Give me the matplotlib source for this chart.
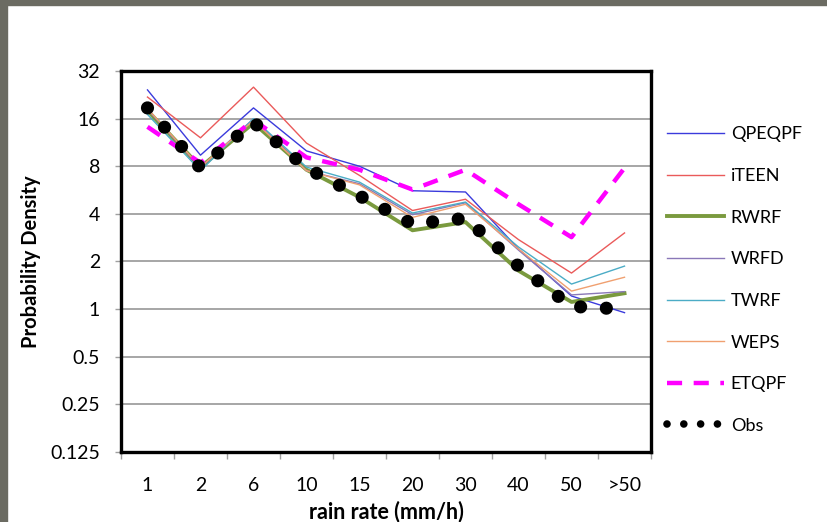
import matplotlib
matplotlib.use("Agg")
import matplotlib.pyplot as plt
from matplotlib.lines import Line2D
from matplotlib.patches import Rectangle
from matplotlib.ticker import FixedLocator, NullFormatter

plt.rcParams["font.family"] = ["Lato", "DejaVu Sans"]

# rain rate classes (mm/h)
categories = ["1", "2", "6", "10", "15", "20", "30", "40", "50", ">50"]

# probability density per class
qpeqpf = [24.3, 9.4, 18.7, 10.0, 8.0, 5.6, 5.5, 2.4, 1.21, 0.95]
iteen = [21.9, 12.1, 25.3, 11.2, 7.0, 4.2, 4.95, 2.75, 1.69, 3.03]
rwrf = [18.0, 7.9, 15.0, 7.6, 5.1, 3.15, 3.55, 1.75, 1.11, 1.26]
wrfd = [18.3, 7.8, 16.0, 7.5, 6.2, 3.95, 4.7, 2.36, 1.23, 1.29]
twrf = [17.0, 7.5, 16.0, 7.9, 6.35, 4.05, 4.75, 2.47, 1.44, 1.87]
weps = [18.5, 7.9, 15.6, 7.5, 6.1, 3.8, 4.6, 2.4, 1.30, 1.59]
etqpf = [14.2, 8.4, 15.7, 9.1, 7.6, 5.7, 7.6, 4.6, 2.85, 7.8]
obs = [18.7, 7.8, 15.2, 7.8, 5.2, 3.45, 3.75, 1.87, 1.04, 1.0]

y_ticks = [0.125, 0.25, 0.5, 1, 2, 4, 8, 16, 32]
y_tick_labels = ["0.125", "0.25", "0.5", "1", "2", "4", "8", "16", "32"]

fig = plt.figure(figsize=(8.27, 5.22), dpi=100)
ax = fig.add_axes([0.1463, 0.1341, 0.6409, 0.7299])

x = range(len(categories))
thin = dict(lw=1.0, solid_joinstyle="round")
ax.plot(x, qpeqpf, color="#3b3bdc", label="QPEQPF", **thin)
ax.plot(x, iteen, color="#ea5a5a", label="iTEEN", **thin)
ax.plot(x, rwrf, color="#7a9a3e", lw=2.8, solid_joinstyle="round", label="RWRF")
ax.plot(x, wrfd, color="#8a78b8", label="WRFD", **thin)
ax.plot(x, twrf, color="#4bacc6", label="TWRF", **thin)
ax.plot(x, weps, color="#f0a070", label="WEPS", **thin)
ax.plot(x, etqpf, color="#ff00ff", lw=3.2, ls=(0, (3.4, 2.6)),
        dash_capstyle="butt", label="ETQPF")
ax.plot(x, obs, color="black", lw=9.5, ls=(0, (0.001, 1.95)),
        dash_capstyle="round", label="Obs", zorder=5)

ax.set_yscale("log", base=2)
ax.set_ylim(0.125, 32)
ax.yaxis.set_major_locator(FixedLocator(y_ticks))
ax.set_yticklabels(y_tick_labels)
ax.yaxis.set_minor_formatter(NullFormatter())
ax.yaxis.set_minor_locator(FixedLocator([]))
ax.grid(axis="y", color="#a6a6a6", lw=1.4)
ax.set_axisbelow(True)

ax.set_xlim(-0.5, len(categories) - 0.5)
ax.set_xticks(list(x))
ax.set_xticklabels(categories)
ax.set_xticks([i - 0.5 for i in range(len(categories) + 1)], minor=True)
ax.tick_params(axis="x", which="major", length=0, pad=18, labelsize=14)
ax.tick_params(axis="x", which="minor", length=5, width=1, color="#a0a0a0",
               direction="out")
ax.tick_params(axis="y", which="major", length=4, width=1, color="#a0a0a0",
               pad=11, labelsize=14)

for s in ax.spines.values():
    s.set_linewidth(2.4)
    s.set_color("black")

ax.set_xlabel("rain rate (mm/h)", fontsize=15.5, fontweight="bold", labelpad=5)
ax.set_ylabel("Probability Density", fontsize=14.5, fontweight="bold", labelpad=7)

# legend to the right of the plot, smaller dots for the Obs sample
handles, labels = ax.get_legend_handles_labels()
handles[-1] = Line2D([], [], color="black", lw=5.5, ls=(0, (0.001, 2.2)),
                     dash_capstyle="round")
fig.legend(handles, labels, loc="upper left", bbox_to_anchor=(0.806, 0.758),
           frameon=False, fontsize=13, handlelength=3.2, handletextpad=0.35,
           labelspacing=1.42, borderpad=0, borderaxespad=0)

# grey frame edges of the slide
fig.patches.append(Rectangle((0, 0), 0.009, 1, transform=fig.transFigure,
                             color="#6b6b62", zorder=10))
fig.patches.append(Rectangle((0, 0.99), 1, 0.01, transform=fig.transFigure,
                             color="#6b6b62", zorder=10))

fig.savefig("out.png", dpi=100)
